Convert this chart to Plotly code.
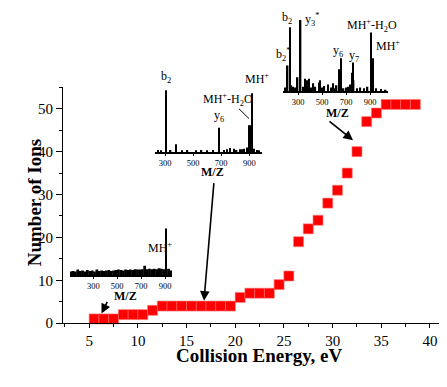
import plotly.graph_objects as go

# ---------------- data ----------------
energy = [5.5, 6.5, 7.5, 8.5, 9.5, 10.5, 11.5, 12.5, 13.5, 14.5, 15.5, 16.5,
          17.5, 18.5, 19.5, 20.5, 21.5, 22.5, 23.5, 24.5, 25.5, 26.5, 27.5,
          28.5, 29.5, 30.5, 31.5, 32.5, 33.5, 34.5, 35.5, 36.5, 37.5, 38.5]
ions = [1, 1, 1, 2, 2, 2, 3, 4, 4, 4, 4, 4, 4, 4, 4, 6, 7, 7, 7, 9, 11, 19, 22,
        24, 28, 31, 35, 40, 47, 49, 51, 51, 51, 51]

x_ticks = [5, 10, 15, 20, 25, 30, 35, 40]
y_ticks = [0, 10, 20, 30, 40, 50]
ms_ticks = [300, 500, 700, 900]

# inset 1 (low energy): noisy baseline + MH+
spec1_mz = [110, 130, 150, 170, 190, 210, 230, 250, 270, 290, 310, 330, 350, 370,
            390, 410, 430, 450, 470, 490, 510, 530, 550, 570, 590, 610, 630, 650,
            670, 690, 710, 730, 750, 770, 790, 810, 830, 850, 870, 890, 910, 930,
            950]
spec1_int = [8, 9, 8, 12, 9, 10, 8, 11, 9, 10, 8, 12, 9, 10, 9, 10, 11, 9, 10, 11,
             12, 11, 10, 12, 11, 12, 11, 13, 12, 12, 13, 20, 13, 14, 13, 14, 13, 15,
             14, 13, 12, 14, 10]
peak1_mz = [905]
peak1_int = [100]

# inset 2 (medium energy)
spec2_mz = [250, 270, 307, 340, 378, 420, 460, 520, 560, 600, 640, 684, 720, 740,
            762, 790, 810, 834, 850, 862, 884, 900, 906, 912, 918, 935, 955, 970]
spec2_int = [3, 2, 97, 3, 12, 2, 3, 2, 3, 2, 3, 38, 3, 4, 6, 5, 3, 4, 4, 5, 7, 42,
             42, 38, 92, 5, 3, 2]

# inset 3 (high energy)
spec3_mz = [190, 214, 233, 245, 260, 275, 297, 322, 340, 358, 378, 394, 410, 428,
            445, 475, 483, 500, 520, 552, 575, 594, 610, 622, 647, 656, 680, 700,
            720, 733, 748, 756, 764, 790, 820, 850, 880, 908, 927, 950, 990, 1030]
spec3_int = [5, 35, 87, 8, 6, 5, 19, 97, 6, 17, 15, 17, 5, 11, 6, 12, 15, 5, 7, 9,
             5, 11, 4, 8, 30, 45, 4, 5, 6, 9, 25, 39, 15, 4, 5, 4, 6, 80, 45, 4, 3, 2]

# ---------------- layout helpers ----------------
# the page body has an 8px margin, so the figure is offset by 8px
OFF = 8
W, H = 447 - OFF, 387 - OFF
FONT = "Liberation Serif, Times New Roman, serif"


def PX(x):
    return (x - OFF) / W


def PY(y):
    return 1 - (y - OFF) / H


def ms_range(x0, x1, p300, p900):
    s = (p900 - p300) / 600.0
    return [300 + (x0 - p300) / s, 300 + (x1 - p300) / s]


fig = go.Figure()

fig.add_trace(go.Scatter(
    x=energy, y=ions, mode="markers", cliponaxis=False,
    marker=dict(symbol="square", size=10, color="#ff0000",
                line=dict(color="#ff7a7a", width=0.6)),
    xaxis="x", yaxis="y", showlegend=False))

insets = [
    dict(x0=70, x1=172, p300=93.3, p900=165, base=281, top=233),
    dict(x0=155, x1=262, p300=165, p900=249.3, base=155, top=90),
    dict(x0=283, x1=388, p300=298, p900=370, base=93, top=18),
]

fig.add_trace(go.Bar(x=spec1_mz, y=spec1_int, width=23, marker_color="black",
                     marker_line_width=0, xaxis="x2", yaxis="y2", showlegend=False))
fig.add_trace(go.Bar(x=peak1_mz, y=peak1_int, width=10, marker_color="black",
                     marker_line_width=0, xaxis="x2", yaxis="y2", showlegend=False))
fig.add_trace(go.Bar(x=spec2_mz, y=spec2_int, width=10, marker_color="black",
                     marker_line_width=0, xaxis="x3", yaxis="y3", showlegend=False))
fig.add_trace(go.Bar(x=spec3_mz, y=spec3_int, width=12, marker_color="black",
                     marker_line_width=0, xaxis="x4", yaxis="y4", showlegend=False))

layout = dict(
    width=W, height=H, margin=dict(l=0, r=0, t=0, b=0),
    paper_bgcolor="white", plot_bgcolor="rgba(0,0,0,0)",
    font=dict(family=FONT, color="black"),
    showlegend=False, barmode="overlay",
    xaxis=dict(domain=[PX(63), 1], range=[2.3, 41.75], anchor="y",
               showline=True, linecolor="black", linewidth=1,
               ticks="outside", ticklen=4, tickwidth=1, tickcolor="black",
               tickvals=x_ticks, ticktext=[str(v) for v in x_ticks],
               tickfont=dict(size=15, family=FONT, color="black"),
               minor=dict(dtick=2.5, tick0=0, ticks="outside", ticklen=3,
                          tickcolor="black", showgrid=False),
               showgrid=False, zeroline=False),
    yaxis=dict(domain=[PY(330), PY(89)], range=[0, 55], anchor="x",
               showline=True, linecolor="black", linewidth=1,
               ticks="outside", ticklen=6, tickwidth=1, tickcolor="black",
               tickvals=y_ticks, ticktext=[str(v) for v in y_ticks],
               tickfont=dict(size=15, family=FONT, color="black"),
               minor=dict(dtick=5, tick0=0, ticks="outside", ticklen=3,
                          tickcolor="black", showgrid=False),
               showgrid=False, zeroline=False),
)

for i, ins in enumerate(insets):
    n = i + 2
    layout["xaxis%d" % n] = dict(
        domain=[PX(ins["x0"]), PX(ins["x1"])],
        range=ms_range(ins["x0"], ins["x1"], ins["p300"], ins["p900"]),
        anchor="y%d" % n, showline=True, linecolor="black", linewidth=1.5,
        ticks="outside", ticklen=2, tickwidth=1, tickcolor="black",
        tickvals=ms_ticks, ticktext=[str(v) for v in ms_ticks],
        tickfont=dict(size=8.5, family=FONT, color="black"),
        showgrid=False, zeroline=False)
    layout["yaxis%d" % n] = dict(
        domain=[PY(ins["base"]), PY(ins["top"])], range=[0, 100],
        anchor="x%d" % n, visible=False)

fig.update_layout(**layout)


def label(text, x, y, size=12, bold=False):
    if bold:
        text = "<b>" + text + "</b>"
    fig.add_annotation(text=text, x=PX(x), y=PY(y), xref="paper", yref="paper",
                       showarrow=False, xanchor="center", yanchor="middle",
                       font=dict(family=FONT, size=size, color="black"))


def arrow(hx, hy, tx, ty):
    fig.add_annotation(text="", x=PX(hx), y=PY(hy), xref="paper", yref="paper",
                       ax=tx - hx, ay=ty - hy, showarrow=True, arrowhead=2,
                       arrowsize=1.2, arrowwidth=1.6, arrowcolor="black")


# axis titles
fig.add_annotation(text="<b>Number of Ions</b>", x=PX(22), y=PY(207),
                   xref="paper", yref="paper", showarrow=False, textangle=-90,
                   font=dict(family=FONT, size=19, color="black"))
fig.add_annotation(text="<b>Collision Energy, eV</b>", x=PX(259), y=PY(376),
                   xref="paper", yref="paper", showarrow=False,
                   font=dict(family=FONT, size=19, color="black"))

# inset 1 labels
label("MH<sup>+</sup>", 160, 253)
label("M/Z", 125, 302, size=12, bold=True)
# inset 2 labels
label("b<sub>2</sub>", 166, 78)
label("y<sub>6</sub>", 219, 118)
label("MH<sup>+</sup>-H<sub>2</sub>O", 228, 101)
label("MH<sup>+</sup>", 257, 80)
label("M/Z", 212, 176, size=12, bold=True)
fig.add_shape(type="line", xref="paper", yref="paper",
              x0=PX(239), y0=PY(111), x1=PX(249), y1=PY(121),
              line=dict(color="black", width=1))
# inset 3 labels
label("b<sub>2</sub>", 287, 18)
label("b<sub>2</sub><sup>*</sup>", 283, 56)
label("y<sub>3</sub><sup>*</sup>", 312, 20)
label("y<sub>6</sub>", 338, 52)
label("y<sub>7</sub>", 354, 57)
label("MH<sup>+</sup>-H<sub>2</sub>O", 372, 26)
label("MH<sup>+</sup>", 388, 46)
label("M/Z", 337, 115, size=12, bold=True)

# arrows from insets to data points
arrow(101.5, 320, 108, 307)
arrow(204, 307, 214, 188)
arrow(353, 143, 328, 123)

fig.write_html("out.html")
